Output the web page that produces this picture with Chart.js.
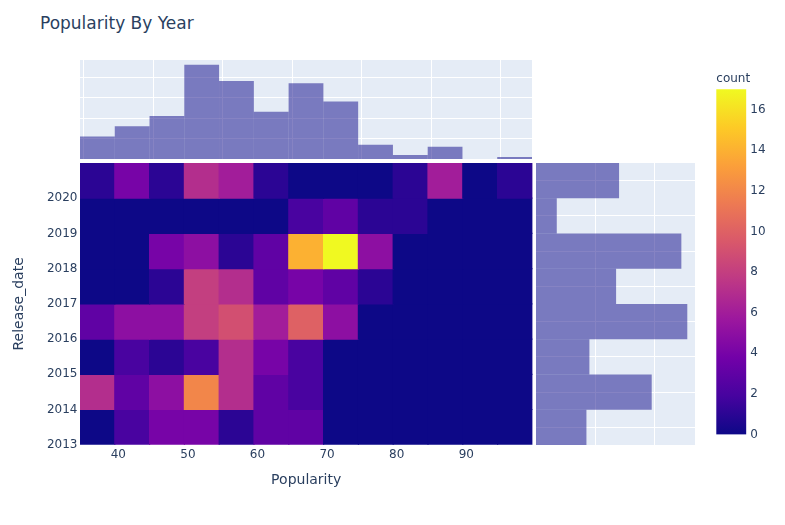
<!DOCTYPE html>
<html>
<head>
<meta charset="utf-8">
<script src="https://cdn.jsdelivr.net/npm/chart.js@4.4.1/dist/chart.umd.min.js"></script>
<style>
  body { margin: 0; background: #fff; }
  #wrap { position: relative; width: 785px; height: 525px; font-family: "DejaVu Sans", Verdana, sans-serif; }
  canvas { position: absolute; }
  #title { position: absolute; left: 40px; top: 13px; font-size: 17px; line-height: 20px; color: #2a3f5f; }
</style>
</head>
<body>
<div id="wrap">
  <div id="title">Popularity By Year</div>
  <canvas id="topHist" style="left:80px;top:60px;width:452px;height:99px"></canvas>
  <canvas id="heat" style="left:0px;top:150px;width:540px;height:345px"></canvas>
  <canvas id="sideHist" style="left:536px;top:163px;width:159px;height:282px"></canvas>
  <canvas id="colorbar" style="left:700px;top:60px;width:85px;height:400px"></canvas>
</div>
<script>
// ===============================
// DATA
// ===============================
const popCenters = [37, 42, 47, 52, 57, 62, 67, 72, 77, 82, 87, 92, 97];
const years = [2013, 2014, 2015, 2016, 2017, 2018, 2019, 2020];

// counts per popularity bin, one row per release year
const counts2013 = [0, 2, 4, 4, 1, 3, 3, 0, 0, 0, 0, 0, 0];
const counts2014 = [7, 3, 5, 12, 7, 3, 2, 0, 0, 0, 0, 0, 0];
const counts2015 = [0, 2, 1, 2, 7, 4, 2, 0, 0, 0, 0, 0, 0];
const counts2016 = [3, 5, 5, 8, 9, 6, 10, 5, 0, 0, 0, 0, 0];
const counts2017 = [0, 0, 1, 8, 7, 3, 4, 3, 1, 0, 0, 0, 0];
const counts2018 = [0, 0, 4, 5, 1, 3, 14, 17, 5, 0, 0, 0, 0];
const counts2019 = [0, 0, 0, 0, 0, 0, 2, 3, 1, 1, 0, 0, 0];
const counts2020 = [1, 4, 1, 7, 6, 1, 0, 0, 0, 1, 6, 0, 1];

// marginal histograms
const popTotals = [11, 16, 21, 46, 38, 23, 37, 28, 7, 2, 6, 0, 1];
const yearTotals = [17, 39, 18, 51, 27, 49, 7, 28];

const colorTicks = [0, 2, 4, 6, 8, 10, 12, 14, 16];
const countMax = 17;

// ===============================
// HELPERS
// ===============================
const plasma = ["#0d0887", "#46039f", "#7201a8", "#9c179e", "#bd3786",
                "#d8576b", "#ed7953", "#fb9f3a", "#fdca26", "#f0f921"];

function hexToRgb(h) {
  return [parseInt(h.slice(1, 3), 16), parseInt(h.slice(3, 5), 16), parseInt(h.slice(5, 7), 16)];
}

function plasmaColor(t) {
  t = Math.max(0, Math.min(1, t));
  const pos = t * (plasma.length - 1);
  const i = Math.min(Math.floor(pos), plasma.length - 2);
  const f = pos - i;
  const a = hexToRgb(plasma[i]), b = hexToRgb(plasma[i + 1]);
  const c = a.map((v, k) => Math.round(v + (b[k] - v) * f));
  return "rgb(" + c.join(",") + ")";
}

const fontFam = '"DejaVu Sans", Verdana, sans-serif';
const txt = "#2a3f5f";
const histColor = "rgba(13,8,135,0.5)";

const plotBg = {
  id: "plotBg",
  beforeDraw(chart) {
    const a = chart.chartArea;
    chart.ctx.save();
    chart.ctx.fillStyle = "#E5ECF6";
    chart.ctx.fillRect(a.left, a.top, a.right - a.left, a.bottom - a.top);
    chart.ctx.restore();
  }
};

Chart.defaults.animation = false;
Chart.defaults.font.family = fontFam;
Chart.defaults.color = txt;
Chart.defaults.plugins.legend.display = false;
Chart.defaults.plugins.tooltip.enabled = false;

// ===============================
// HEATMAP
// ===============================
const rows = [counts2013, counts2014, counts2015, counts2016, counts2017, counts2018, counts2019, counts2020];
const cells = [];
const cellColors = [];
rows.forEach((row, r) => {
  row.forEach((v, c) => {
    cells.push({ x: popCenters[c], y: [years[r], years[r] + 1] });
    cellColors.push(plasmaColor(v / countMax));
  });
});

new Chart(document.getElementById("heat"), {
  type: "bar",
  data: {
    datasets: [{
      data: cells,
      backgroundColor: cellColors,
      borderWidth: 0,
      inflateAmount: 0.6,
      barPercentage: 1,
      categoryPercentage: 1
    }]
  },
  options: {
    responsive: false,
    layout: { padding: { top: 13, right: 7.6, left: 0, bottom: 0 } },
    scales: {
      x: {
        type: "linear",
        min: 34.5,
        max: 99.5,
        offset: false,
        afterBuildTicks: s => { s.ticks = [40, 50, 60, 70, 80, 90].map(v => ({ value: v })); },
        afterFit: s => { s.height = 50.3; },
        grid: { display: false, drawTicks: false },
        border: { display: false },
        ticks: { padding: 3.3, font: { size: 12 }, color: txt, maxRotation: 0 },
        title: { display: true, text: "Popularity", font: { size: 14 }, color: txt, padding: { top: 0, bottom: 6.6 } }
      },
      y: {
        type: "linear",
        min: 2013,
        max: 2021,
        afterBuildTicks: s => { s.ticks = years.map(v => ({ value: v })); },
        afterFit: s => { s.width = 80; },
        grid: { display: false, drawTicks: false },
        border: { display: false },
        ticks: { padding: 2.5, font: { size: 12 }, color: txt, callback: v => String(v) },
        title: { display: true, text: "Release_date", font: { size: 14 }, color: txt, padding: { top: 10.9, bottom: 0 } }
      }
    }
  }
});

// ===============================
// TOP HISTOGRAM (popularity)
// ===============================
new Chart(document.getElementById("topHist"), {
  type: "bar",
  data: {
    datasets: [{
      data: popCenters.map((x, i) => ({ x: x, y: popTotals[i] })),
      backgroundColor: histColor,
      borderWidth: 0,
      inflateAmount: 0,
      barPercentage: 1,
      categoryPercentage: 1
    }]
  },
  options: {
    responsive: false,
    layout: { padding: 0 },
    scales: {
      x: {
        type: "linear",
        min: 34.5,
        max: 99.5,
        offset: false,
        afterBuildTicks: s => { s.ticks = [40, 50, 60, 70, 80, 90].map(v => ({ value: v })); },
        afterFit: s => { s.height = 0; },
        grid: { color: "#fff", lineWidth: 1, drawTicks: false },
        border: { display: false },
        ticks: { display: false }
      },
      y: {
        min: 0,
        max: 48.3,
        afterBuildTicks: s => { s.ticks = [10, 20, 30, 40].map(v => ({ value: v })); },
        afterFit: s => { s.width = 0; },
        grid: { color: "#fff", lineWidth: 1, drawTicks: false },
        border: { display: false },
        ticks: { display: false }
      }
    }
  },
  plugins: [plotBg]
});

// ===============================
// SIDE HISTOGRAM (release year)
// ===============================
new Chart(document.getElementById("sideHist"), {
  type: "bar",
  data: {
    datasets: [{
      data: years.map((y, i) => ({ x: yearTotals[i], y: y + 0.5 })),
      backgroundColor: histColor,
      borderWidth: 0,
      inflateAmount: 0,
      barPercentage: 1,
      categoryPercentage: 1
    }]
  },
  options: {
    responsive: false,
    indexAxis: "y",
    layout: { padding: 0 },
    scales: {
      x: {
        type: "linear",
        min: 0,
        max: 53.6,
        afterBuildTicks: s => { s.ticks = [20, 40].map(v => ({ value: v })); },
        afterFit: s => { s.height = 0; },
        grid: { color: "#fff", lineWidth: 1, drawTicks: false },
        border: { display: false },
        ticks: { display: false }
      },
      y: {
        type: "linear",
        min: 2013,
        max: 2021,
        offset: false,
        afterBuildTicks: s => { s.ticks = [2014, 2015, 2016, 2017, 2018, 2019, 2020].map(v => ({ value: v })); },
        afterFit: s => { s.width = 0; },
        grid: { color: "#fff", lineWidth: 1, drawTicks: false },
        border: { display: false },
        ticks: { display: false }
      }
    }
  },
  plugins: [plotBg]
});

// ===============================
// COLORBAR
// ===============================
new Chart(document.getElementById("colorbar"), {
  type: "bar",
  data: {
    labels: ["count"],
    datasets: [{
      data: [[0, countMax]],
      backgroundColor: ctx => {
        const area = ctx.chart.chartArea;
        if (!area) return plasma[0];
        const g = ctx.chart.ctx.createLinearGradient(0, area.bottom, 0, area.top);
        plasma.forEach((c, i) => g.addColorStop(i / (plasma.length - 1), c));
        return g;
      },
      borderWidth: 0,
      barPercentage: 1,
      categoryPercentage: 1
    }]
  },
  options: {
    responsive: false,
    layout: { padding: { top: 0, left: 16.3, right: 0, bottom: 25.5 } },
    plugins: {
      title: {
        display: true,
        text: "count",
        align: "start",
        font: { size: 12, weight: "normal" },
        color: txt,
        padding: { top: 12.1, bottom: 2.8 }
      }
    },
    scales: {
      x: { display: false },
      y: {
        position: "right",
        min: 0,
        max: countMax,
        afterBuildTicks: s => { s.ticks = colorTicks.map(v => ({ value: v })); },
        afterFit: s => { s.width = 38.7; },
        grid: { display: false, drawTicks: false },
        border: { display: false },
        ticks: { padding: 4, font: { size: 12 }, color: txt }
      }
    }
  }
});
</script>
</body>
</html>
